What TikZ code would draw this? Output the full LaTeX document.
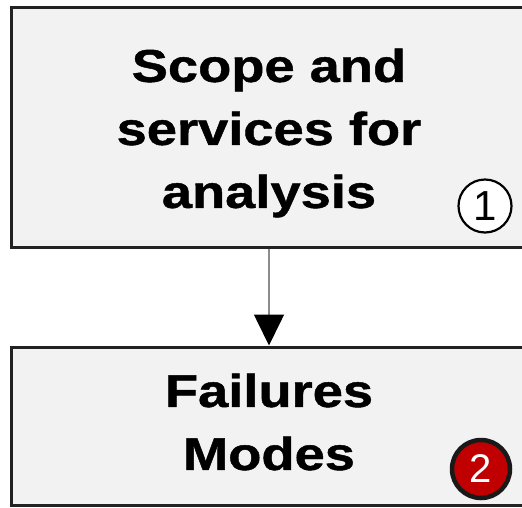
\documentclass[tikz,border=0pt]{standalone}
\usepackage{fontspec}
\setmainfont{Liberation Sans}
\newfontfamily\widefont[FakeStretch=1.18,BoldFeatures={FakeBold=1}]{Liberation Sans}
\usetikzlibrary{arrows.meta}
\definecolor{boxfill}{HTML}{F2F2F2}
\definecolor{boxline}{HTML}{222222}
\definecolor{badgered}{HTML}{C00000}
\tikzset{
  stepbox/.style={draw=boxline, line width=3pt, fill=boxfill, rectangle, inner sep=0pt},
  boxtext/.style={align=center, font=\widefont\fontsize{46}{63}\selectfont\bfseries, inner sep=0pt},
  badgeA/.style={circle, draw=black, line width=2.2pt, fill=white, minimum size=53pt, inner sep=0pt, font=\fontsize{42}{42}\selectfont},
  badgeB/.style={circle, draw=black!90, line width=4.5pt, fill=badgered, text=white, minimum size=58pt, inner sep=0pt, font=\fontsize{40}{40}\selectfont},
  conn/.style={draw=black!45, line width=1.6pt, -{Triangle[length=31pt,width=30pt,fill=black,color=black]}}
}
\begin{document}
\begin{tikzpicture}[x=1pt,y=1pt]
\useasboundingbox (0,0) rectangle (522,-507);
\clip (0,0) rectangle (522,-507);
\node[stepbox, minimum width=516pt, minimum height=240pt] (scope) at (269,-127) {};
\node[stepbox, minimum width=516pt, minimum height=158pt] (fail) at (269,-426) {};
\node[boxtext] (scopetxt) at (269,-133) {Scope and\\services for\\analysis};
\node[boxtext] (failtxt) at (269,-422) {Failures\\Modes};
\node[badgeA] (b1) at (485,-206) {1};
\node[badgeB] (b2) at (481,-469) {2};
\draw[conn] (scope.south) -- (fail.north);
\end{tikzpicture}
\end{document}
